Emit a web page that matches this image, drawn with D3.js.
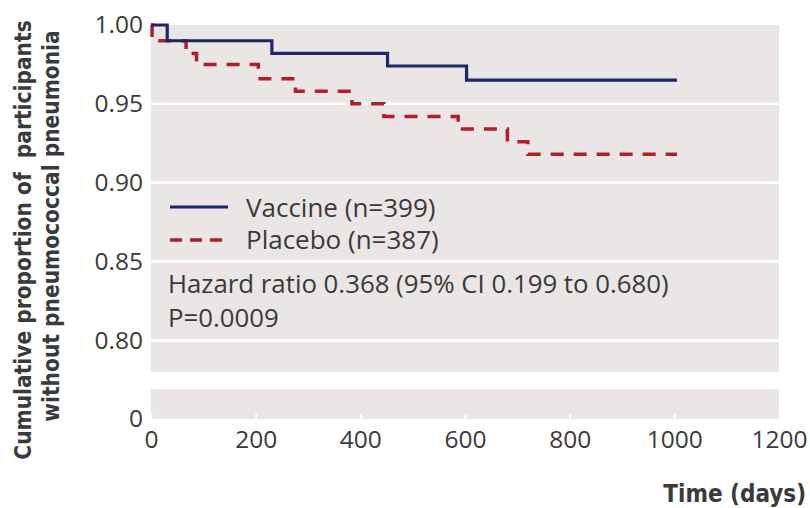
<!DOCTYPE html>
<html>
<head>
<meta charset="utf-8">
<script src="https://cdn.jsdelivr.net/npm/d3@7"></script>
<style>
  body { margin: 0; background: #fff; }
  text { fill: #3a3a3a; }
</style>
</head>
<body>
<div id="chart"></div>
<script>
// Kaplan-Meier steps
const vaccineDays = [0, 31, 231, 452, 603, 1005];
const vaccineSurv = [1.000, 0.990, 0.982, 0.974, 0.965, 0.965];
const placeboDays = [0, 2, 67, 87, 205, 276, 384, 445, 587, 681, 720, 1005];
const placeboSurv = [1.000, 0.990, 0.982, 0.975, 0.966, 0.958, 0.950, 0.942, 0.934, 0.926, 0.918, 0.918];

const xTicks = [0, 200, 400, 600, 800, 1000, 1200];
const yTicks = [0.80, 0.85, 0.90, 0.95, 1.00];
const legendLabels = ["Vaccine (n=399)", "Placebo (n=387)"];
const statLines = ["Hazard ratio 0.368 (95% CI 0.199 to 0.680)", "P=0.0009"];

const W = 810, H = 508;
const blue = "#1c2669", red = "#b01e2a", panel = "#e9e6e5";
const tickFont = "'Open Sans', Lato, sans-serif";

const svg = d3.select("#chart").append("svg")
  .attr("width", W).attr("height", H);

const x = d3.scaleLinear().domain([0, 1200]).range([151, 779]);
const y = d3.scaleLinear().domain([0.78, 1.00]).range([372, 25]);
const yLow = d3.scaleLinear().domain([0, 1]).range([419, 389]);

// panels (broken axis)
svg.append("rect")
  .attr("x", x(0)).attr("y", y(1.00))
  .attr("width", x(1200) - x(0)).attr("height", y(0.78) - y(1.00))
  .attr("fill", panel);
svg.append("rect")
  .attr("x", x(0)).attr("y", yLow(1))
  .attr("width", x(1200) - x(0)).attr("height", yLow(0) - yLow(1))
  .attr("fill", panel);

// gridlines
svg.append("g").selectAll("line")
  .data(yTicks.filter(d => d < 1))
  .enter().append("line")
    .attr("x1", x(0)).attr("x2", x(1200))
    .attr("y1", d => y(d)).attr("y2", d => y(d))
    .attr("stroke", "#fff").attr("stroke-width", 2.5);

// y axis
const yAxis = svg.append("g")
  .attr("transform", `translate(${x(0)},0)`)
  .call(d3.axisLeft(y).tickValues(yTicks).tickFormat(d3.format(".2f")).tickSize(0).tickPadding(8));
yAxis.select(".domain").remove();
yAxis.selectAll("text")
  .style("font-family", tickFont).style("font-size", "24.5px").attr("fill", "#3a3a3a");

const yLowAxis = svg.append("g")
  .attr("transform", `translate(${x(0)},0)`)
  .call(d3.axisLeft(yLow).tickValues([0]).tickFormat(d3.format("d")).tickSize(0).tickPadding(8));
yLowAxis.select(".domain").remove();
yLowAxis.selectAll("text")
  .style("font-family", tickFont).style("font-size", "24.5px").attr("fill", "#3a3a3a");

// x axis
const xAxis = svg.append("g")
  .attr("transform", `translate(0,${yLow(0)})`)
  .call(d3.axisBottom(x).tickValues(xTicks).tickFormat(d3.format("d")).tickSize(-5).tickPadding(0));
xAxis.select(".domain").remove();
xAxis.selectAll("line").attr("stroke", "#fff").attr("stroke-width", 2);
xAxis.selectAll("text")
  .attr("y", 20).attr("dy", "0.35em")
  .style("font-family", tickFont).style("font-size", "24.5px").attr("fill", "#3a3a3a");

// survival curves
const step = d3.line()
  .x(d => x(d[0]))
  .y(d => y(d[1]))
  .curve(d3.curveStepAfter);

svg.append("path")
  .datum(placeboDays.map((t, i) => [t, placeboSurv[i]]))
  .attr("fill", "none").attr("stroke", red).attr("stroke-width", 3.5)
  .attr("stroke-dasharray", "13,10")
  .attr("d", step);

svg.append("path")
  .datum(vaccineDays.map((t, i) => [t, vaccineSurv[i]]))
  .attr("fill", "none").attr("stroke", blue).attr("stroke-width", 3.2)
  .attr("d", step);

// legend
const legend = svg.append("g");
legend.append("line")
  .attr("x1", 170).attr("x2", 228).attr("y1", 207).attr("y2", 207)
  .attr("stroke", blue).attr("stroke-width", 3.2);
legend.append("line")
  .attr("x1", 170).attr("x2", 228).attr("y1", 240).attr("y2", 240)
  .attr("stroke", red).attr("stroke-width", 3.5).attr("stroke-dasharray", "12,8");
legend.selectAll("text.lab")
  .data(legendLabels)
  .enter().append("text")
    .attr("class", "lab")
    .attr("x", 246).attr("y", (d, i) => 217 + i * 32)
    .style("font-family", tickFont).style("font-size", "26px")
    .text(d => d);

svg.selectAll("text.stat")
  .data(statLines)
  .enter().append("text")
    .attr("class", "stat")
    .attr("x", 168).attr("y", (d, i) => 293 + i * 34)
    .style("font-family", tickFont).style("font-size", "25.8px")
    .text(d => d);

// axis titles
const titleFont = "'DejaVu Sans Condensed', 'DejaVu Sans', sans-serif";
svg.append("text")
  .attr("transform", "translate(31,240) rotate(-90)")
  .attr("text-anchor", "middle")
  .style("font-family", titleFont).style("font-stretch", "condensed")
  .style("font-weight", "bold").style("font-size", "22.5px")
  .style("white-space", "pre")
  .text("Cumulative proportion of  participants");
svg.append("text")
  .attr("transform", "translate(59,226) rotate(-90)")
  .attr("text-anchor", "middle")
  .style("font-family", titleFont).style("font-stretch", "condensed")
  .style("font-weight", "bold").style("font-size", "22.5px")
  .text("without pneumococcal pneumonia");

svg.append("text")
  .attr("x", 806).attr("y", 502)
  .attr("text-anchor", "end")
  .style("font-family", titleFont).style("font-stretch", "condensed")
  .style("font-weight", "bold").style("font-size", "24px")
  .text("Time (days)");
</script>
</body>
</html>
